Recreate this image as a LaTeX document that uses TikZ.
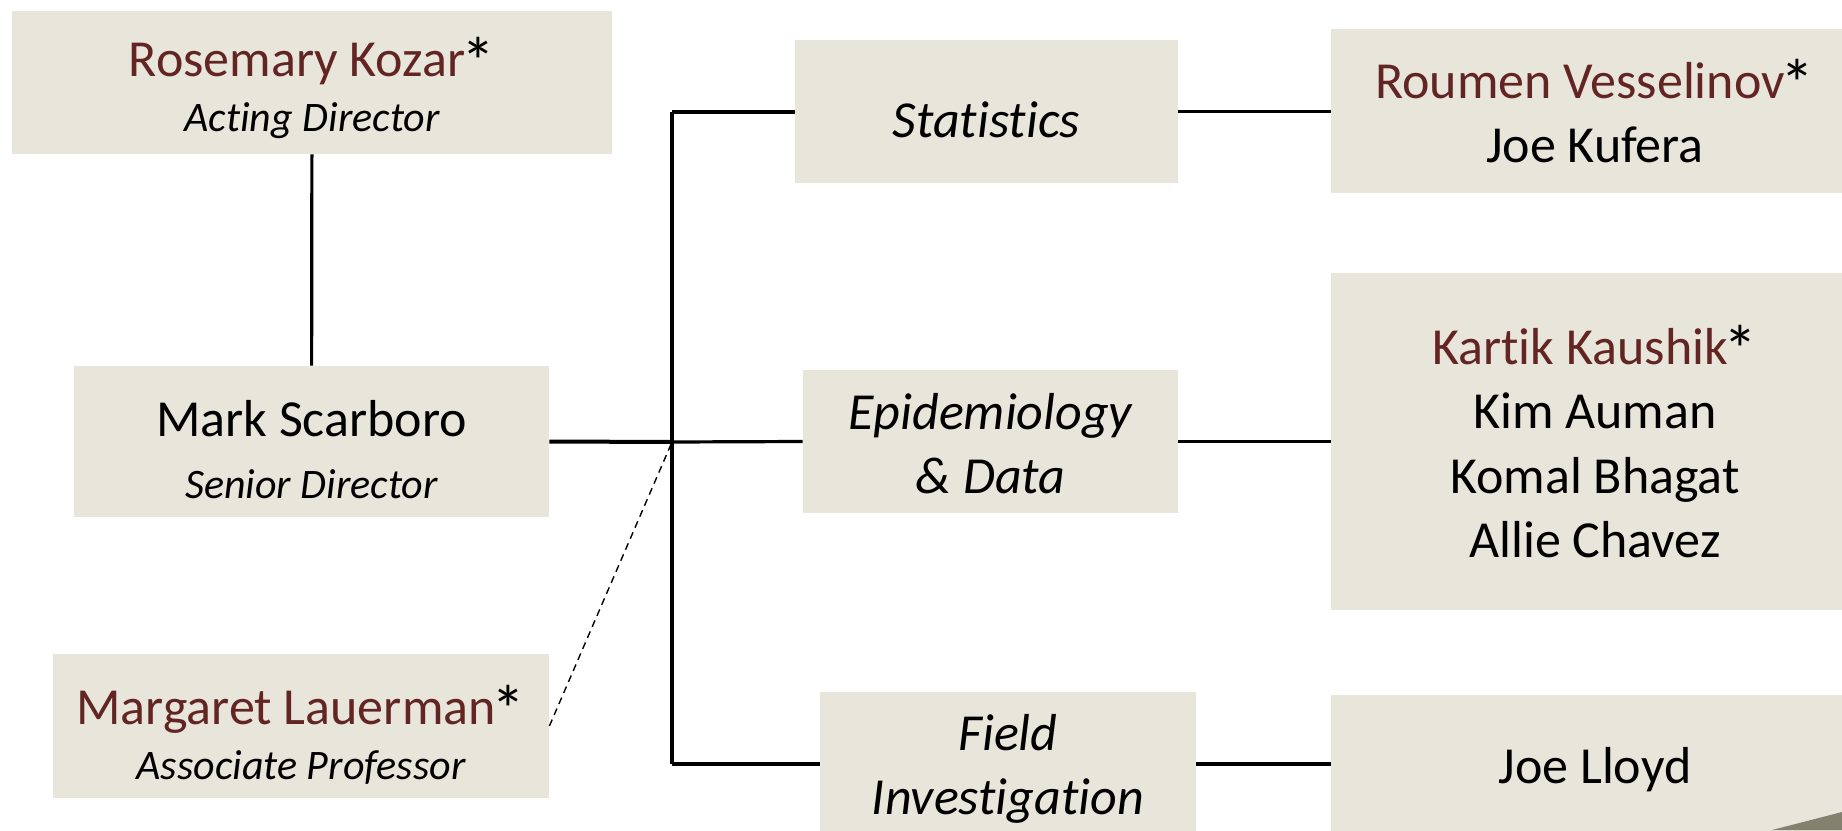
\documentclass[tikz,border=0pt]{standalone}
\usepackage{fontspec}
\setmainfont[Ligatures={NoCommon,NoContextual}, RawFeature={-liga;-clig;-calt;-dlig}]{Carlito}
\definecolor{boxfill}{RGB}{232,230,218}
\definecolor{namered}{RGB}{99,37,35}
\definecolor{cornergray}{RGB}{133,129,111}
\newcommand{\nm}[1]{\textcolor{namered}{#1}}
\newcommand{\ttl}[1]{{\fontsize{21}{29}\selectfont\itshape #1}}
\newcommand{\myast}{\kern-2pt\raisebox{-4.5pt}{\fontsize{34}{34}\selectfont *}}
\newcommand{\down}[2]{\raisebox{0pt}[\dimexpr\height+#1\relax]{#2}}
\newcommand{\nolig}{\kern0pt{}}
\tikzset{
  box/.style={fill=boxfill, inner sep=0pt, align=center, font=\fontsize{26}{29}\selectfont},
  listbox/.style={box, font=\fontsize{26}{32.3}\selectfont},
  unitbox/.style={box, font=\fontsize{26}{32}\selectfont\itshape},
  conn/.style={line width=1.6pt},
  thickconn/.style={line width=2pt},
  dashconn/.style={line width=0.7pt, dash pattern=on 3.5pt off 2.5pt}
}
\begin{document}
\begin{tikzpicture}[x=0.5pt,y=-0.5pt]
\useasboundingbox (0,0) rectangle (1842,830);
\clip (0,0) rectangle (1842,830);
% left column
\node[box, minimum width=300pt, minimum height=71.5pt] (rk) at (312,82.5)
  {\down{5pt}{\nm{Rosemary Kozar}\myast}\\[-1.5pt] \ttl{Act\nolig ing Director}};
\node[box, minimum width=237.5pt, minimum height=75.5pt] (ms) at (311.5,441.5)
  {\down{8pt}{Mark Scarboro}\\[2pt] \ttl{Senior Director}};
\node[box, minimum width=248pt, minimum height=72pt] (ml) at (301,726)
  {\down{9pt}{\nm{Margaret Lauerman}\myast}\\[-1.2pt] \ttl{Associate Professor}};
% middle column
\node[unitbox, minimum width=191.5pt, minimum height=71.5pt] (st) at (986.5,111.5)
  {\down{8pt}{Stat\nolig ist\nolig ics}};
\node[unitbox, minimum width=187.5pt, minimum height=71.5pt] (ep) at (990.5,441.5)
  {\down{2pt}{Epidemiology}\\ \& Data};
\node[unitbox, minimum width=188pt, minimum height=74pt] (fi) at (1008,766)
  {\down{2.5pt}{Field}\\ Invest\nolig igat\nolig ion};
% right column
\node[listbox, minimum width=264pt, minimum height=82pt] (ro) at (1595,111)
  {\nm{Roumen Vesselinov}\myast\\ Joe Kufera};
\node[listbox, minimum width=264pt, minimum height=168.5pt] (ka) at (1595,441.5)
  {\nm{Kartik Kaushik}\myast\\ Kim Auman\\ Komal Bhagat\\ Allie Chavez};
\node[listbox, minimum width=264pt, minimum height=71pt] (jl) at (1595,766)
  {\down{3.5pt}{Joe Lloyd}};
% bus coordinates
\coordinate (bt) at (672,112);
\coordinate (bc) at (672,442);
\coordinate (bb) at (672,764);
% connectors
\draw[conn] (rk) -- (ms);
\draw[thickconn] (ms.east) -- (bc);
\draw[conn] (bc) -- (ep.west);
\draw[conn] (bt) -- (bb);
\draw[conn] (bt) -- (bt -| st.west);
\draw[conn] (bb) -- (bb -| fi.west);
\draw[conn] (st.east) -- (st.east -| ro.west);
\draw[conn] (ep.east) -- (ep.east -| ka.west);
\draw[conn] (fi.east |- bb) -- (bb -| jl.west);
\draw[dashconn] (ml.east) -- (bc);
% corner decoration
\fill[cornergray] (1772,830) -- (1842,812) -- (1842,830) -- cycle;
\end{tikzpicture}
\end{document}
